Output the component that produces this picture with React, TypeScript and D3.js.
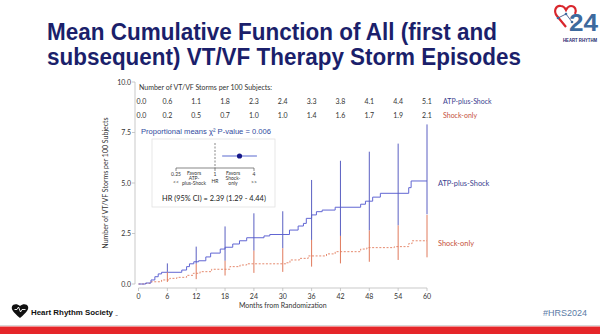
import React from "react";
import * as d3 from "d3";

const monthTicks = [0, 6, 12, 18, 24, 30, 36, 42, 48, 54, 60];
const yTicks = [0, 2.5, 5, 7.5, 10];
const atpCounts = ["0.0", "0.6", "1.1", "1.8", "2.3", "2.4", "3.3", "3.8", "4.1", "4.4", "5.1"];
const shockCounts = ["0.0", "0.2", "0.5", "0.7", "1.0", "1.0", "1.4", "1.6", "1.7", "1.9", "2.1"];

// step curves [month, mean cumulative]
const atpSteps: [number, number][] = [
  [0, 0], [1.5, 0.05], [2.6, 0.2], [3.4, 0.36], [4.1, 0.5], [4.8, 0.58], [9.0, 0.69], [10.0, 0.86],
  [10.6, 1.0], [11.5, 1.1], [12.5, 1.15], [14, 1.34], [15, 1.53], [17, 1.73], [18, 1.82], [19.6, 1.98],
  [21, 2.14], [22.5, 2.29], [26.1, 2.38], [27.3, 2.45], [31.4, 2.67], [33.2, 2.87], [34.3, 3.0],
  [34.9, 3.25], [36, 3.42], [37, 3.58], [38.2, 3.66], [40.9, 3.8], [46.2, 3.95], [47.2, 4.1],
  [48.7, 4.3], [50.3, 4.49], [56.2, 4.77], [56.7, 5.1], [60, 5.1],
];
const shockSteps: [number, number][] = [
  [0, 0], [1.5, 0.03], [2.4, 0.11], [4.8, 0.2], [6.5, 0.28], [8, 0.33], [10, 0.43], [11.4, 0.53],
  [12.8, 0.61], [15.2, 0.73], [19, 0.86], [21.1, 0.94], [22.5, 1.0], [30.7, 1.05], [31.5, 1.19],
  [33.5, 1.27], [35.3, 1.39], [39.1, 1.49], [40.9, 1.6], [46.2, 1.73], [47.5, 1.8], [53.2, 1.85],
  [56.2, 2.0], [56.9, 2.14], [60, 2.14],
];
// confidence bars [month, lower, upper]
const atpCI: [number, number, number][] = [
  [6, 0.6, 1.02], [12, 1.0, 1.85], [18, 1.15, 2.85], [24, 1.65, 3.5], [30, 1.77, 3.6],
  [36, 2.18, 5.15], [42, 2.38, 6.1], [48, 2.65, 6.55], [54, 2.9, 6.95], [60, 3.45, 7.9],
];
const shockCI: [number, number, number][] = [
  [6, 0.1, 0.58], [12, 0.24, 1.0], [18, 0.42, 1.15], [24, 0.55, 1.65], [30, 0.6, 1.77],
  [36, 0.86, 2.18], [42, 1.02, 2.38], [48, 1.1, 2.65], [54, 1.19, 2.9], [60, 1.32, 3.42],
];
const hr = { est: 2.39, lo: 1.29, hi: 4.44 };
const hrTicks = [0.25, 1, 4];

const GILL = "Lato, 'Open Sans', sans-serif";
const ARIAL = "'Liberation Sans', Arial, sans-serif";

export default function App() {
  const x = d3.scaleLinear().domain([0, 60]).range([138.5, 427]);
  const y = d3.scaleLinear().domain([0, 10]).range([284, 82]);
  const line = d3.line<[number, number]>().x((d) => x(d[0])).y((d) => y(d[1])).curve(d3.curveStepAfter);
  const hx = d3.scaleLog().base(2).domain([0.25, 4]).range([176, 254]);

  const blue = "#6166d3";
  const orange = "#e58a6e";
  return (
    <svg width={600} height={334} style={{ position: "absolute", left: 0, top: 0, background: "#fff" }}>
      <rect x={0} y={0} width={600} height={334} fill="#fff" />
      {/* Title */}
      <text x={47} y={40} fontFamily={ARIAL} fontWeight="bold" fontSize={23} fill="#1b1f6b"
        textLength={450} lengthAdjust="spacingAndGlyphs">Mean Cumulative Function of All (first and</text>
      <text x={47} y={65} fontFamily={ARIAL} fontWeight="bold" fontSize={23} fill="#1b1f6b"
        textLength={474} lengthAdjust="spacingAndGlyphs">subsequent) VT/VF Therapy Storm Episodes</text>

      {/* Logo top-right */}
      <g>
        <path d="M566,27 L557,16 C553,11 556,5 561,6 C563,6 565,8 566,10 C567,8 569,6 571,6 C575,6 577,10 575,14"
          fill="none" stroke="#d9262c" strokeWidth={2.2} />
        <line x1={558} y1={18} x2={566} y2={14} stroke="#2a3f7a" strokeWidth={0.8} />
        <line x1={566} y1={14} x2={572} y2={22} stroke="#2a3f7a" strokeWidth={0.8} />
        <circle cx={558} cy={18} r={1.3} fill="#3d6a9e" />
        <circle cx={566} cy={14} r={1.3} fill="#3d6a9e" />
        <circle cx={572} cy={22} r={1.3} fill="#3d6a9e" />
        <text x={569} y={31} fontFamily={ARIAL} fontWeight="bold" fontSize={24} fill="#3d6a9e"
          textLength={29} lengthAdjust="spacingAndGlyphs">24</text>
        <text x={563} y={42} fontFamily={ARIAL} fontWeight="bold" fontSize={4.5} fill="#1b1f6b"
          textLength={34} lengthAdjust="spacingAndGlyphs">HEART RHYTHM</text>
      </g>

      {/* Header table */}
      <text x={139} y={89.5} fontFamily={GILL} fontSize={7} fill="#333">Number of VT/VF Storms per 100 Subjects:</text>
      {monthTicks.map((m, i) => (
        <g key={"r" + m}>
          <text x={x(m) + (i === 0 ? 3 : 0)} y={103.5} textAnchor="middle" fontFamily={GILL} fontSize={7} fill="#333">{atpCounts[i]}</text>
          <text x={x(m) + (i === 0 ? 3 : 0)} y={117.5} textAnchor="middle" fontFamily={GILL} fontSize={7} fill="#333">{shockCounts[i]}</text>
        </g>
      ))}
      <text x={443} y={103.5} fontFamily={GILL} fontSize={7} fill="#3b3f8f">ATP-plus-Shock</text>
      <text x={443} y={117.5} fontFamily={GILL} fontSize={7} fill="#c5503a">Shock-only</text>

      <text x={141} y={134} fontFamily={ARIAL} fontSize={7.6} fill="#2f4a9e">Proportional means χ² P-value = 0.006</text>

      {/* Inset forest plot */}
      <rect x={152} y={139} width={123} height={68} fill="#fff" stroke="#e2e2e2" strokeWidth={0.8} />
      <line x1={hx(1)} x2={hx(1)} y1={143} y2={168} stroke="#555" strokeWidth={0.7} strokeDasharray="2,1.5" />
      <line x1={hx(0.25)} x2={hx(4)} y1={168} y2={168} stroke="#555" strokeWidth={0.7} />
      {hrTicks.map((t) => (
        <g key={"h" + t}>
          <line x1={hx(t)} x2={hx(t)} y1={168} y2={171} stroke="#555" strokeWidth={0.7} />
          <text x={hx(t)} y={175.5} textAnchor="middle" fontFamily={GILL} fontSize={5} fill="#333">{String(t)}</text>
        </g>
      ))}
      <line x1={hx(hr.lo)} x2={hx(hr.hi)} y1={156} y2={156} stroke="#5a6bd0" strokeWidth={1.2} />
      <circle cx={hx(hr.est)} cy={156} r={2.6} fill="#17198a" />
      <text x={hx(0.25)} y={183.5} textAnchor="middle" fontFamily={GILL} fontSize={5} fill="#333">&lt;&lt;</text>
      <text x={hx(4)} y={183.5} textAnchor="middle" fontFamily={GILL} fontSize={5} fill="#333">&gt;&gt;</text>
      <text x={hx(1)} y={182.5} textAnchor="middle" fontFamily={GILL} fontSize={5} fill="#333">HR</text>
      {["Favors", "ATP-", "plus-Shock"].map((s, i) => (
        <text key={s} x={194} y={175 + i * 4.8} textAnchor="middle" fontFamily={GILL} fontSize={5} fill="#333">{s}</text>
      ))}
      {["Favors", "Shock-", "only"].map((s, i) => (
        <text key={s} x={233} y={175 + i * 4.8} textAnchor="middle" fontFamily={GILL} fontSize={5} fill="#333">{s}</text>
      ))}
      <text x={214} y={200.5} textAnchor="middle" fontFamily={GILL} fontSize={7.4} fill="#222">HR (95% CI) = 2.39 (1.29 - 4.44)</text>

      {/* Axes */}
      <line x1={135} x2={135} y1={y(10)} y2={y(0)} stroke="#bbb" strokeWidth={0.8} />
      {yTicks.map((t) => (
        <g key={"y" + t}>
          <line x1={132} x2={135} y1={y(t)} y2={y(t)} stroke="#bbb" strokeWidth={0.8} />
          <text x={131} y={y(t) + 2.5} textAnchor="end" fontFamily={GILL} fontSize={7} fill="#333">{t.toFixed(1)}</text>
        </g>
      ))}
      <text transform={`translate(108,${y(5)}) rotate(-90)`} textAnchor="middle" fontFamily={GILL} fontSize={7} fill="#333">
        Number of VT/VF Storms per 100 Subjects
      </text>
      <line x1={x(0)} x2={x(60)} y1={288} y2={288} stroke="#bbb" strokeWidth={0.8} />
      {monthTicks.map((m) => (
        <g key={"x" + m}>
          <line x1={x(m)} x2={x(m)} y1={288} y2={291} stroke="#bbb" strokeWidth={0.8} />
          <text x={x(m)} y={299} textAnchor="middle" fontFamily={GILL} fontSize={7} fill="#333">{m}</text>
        </g>
      ))}
      <text x={x(30)} y={308} textAnchor="middle" fontFamily={GILL} fontSize={7} fill="#333">Months from Randomization</text>

      {/* Curves */}
      <path d={line(shockSteps) || ""} fill="none" stroke={orange} strokeWidth={1} strokeDasharray="2,1.6" />
      <path d={line(atpSteps) || ""} fill="none" stroke={blue} strokeWidth={1} />
      {atpCI.map(([m, lo, hi]) => (
        <line key={"ab" + m} x1={x(m)} x2={x(m)} y1={y(lo)} y2={y(hi)} stroke="#5a5fc2" strokeWidth={1} />
      ))}
      {shockCI.map(([m, lo, hi]) => (
        <line key={"sb" + m} x1={x(m)} x2={x(m)} y1={y(lo)} y2={y(hi)} stroke="#e07a5c" strokeWidth={1} />
      ))}
      <text x={438} y={185.5} fontFamily={GILL} fontSize={7.4} fill="#3b3f8f">ATP-plus-Shock</text>
      <text x={438} y={245.5} fontFamily={GILL} fontSize={7.4} fill="#c5503a">Shock-only</text>

      {/* Footer */}
      <g>
        <path d="M20,318 C13,312 11,309 12,306.5 C13,304 17,303.5 20,306 C23,303.5 27,304 28,306.5 C29,309 27,312 20,318 Z" fill="#111" />
        <path d="M14.5,309.5 L17,309.5 L18.5,307 L20.5,312 L22,309.5 L25.5,309.5" fill="none" stroke="#fff" strokeWidth={0.9} />
        <text x={31} y={314.5} fontFamily={ARIAL} fontWeight="bold" fontSize={7.9} fill="#111">Heart Rhythm Society</text>
        <text x={115} y={316.5} fontFamily={ARIAL} fontSize={3} fill="#111">™</text>
      </g>
      <text x={587} y={315.5} textAnchor="end" fontFamily={ARIAL} fontSize={9} fill="#5b7ba6">#HRS2024</text>
      <line x1={0} x2={600} y1={325.5} y2={325.5} stroke="#d8d8d8" strokeWidth={1} />
      <rect x={0} y={326.5} width={600} height={8} fill="#e5262a" />
    </svg>
  );
}
